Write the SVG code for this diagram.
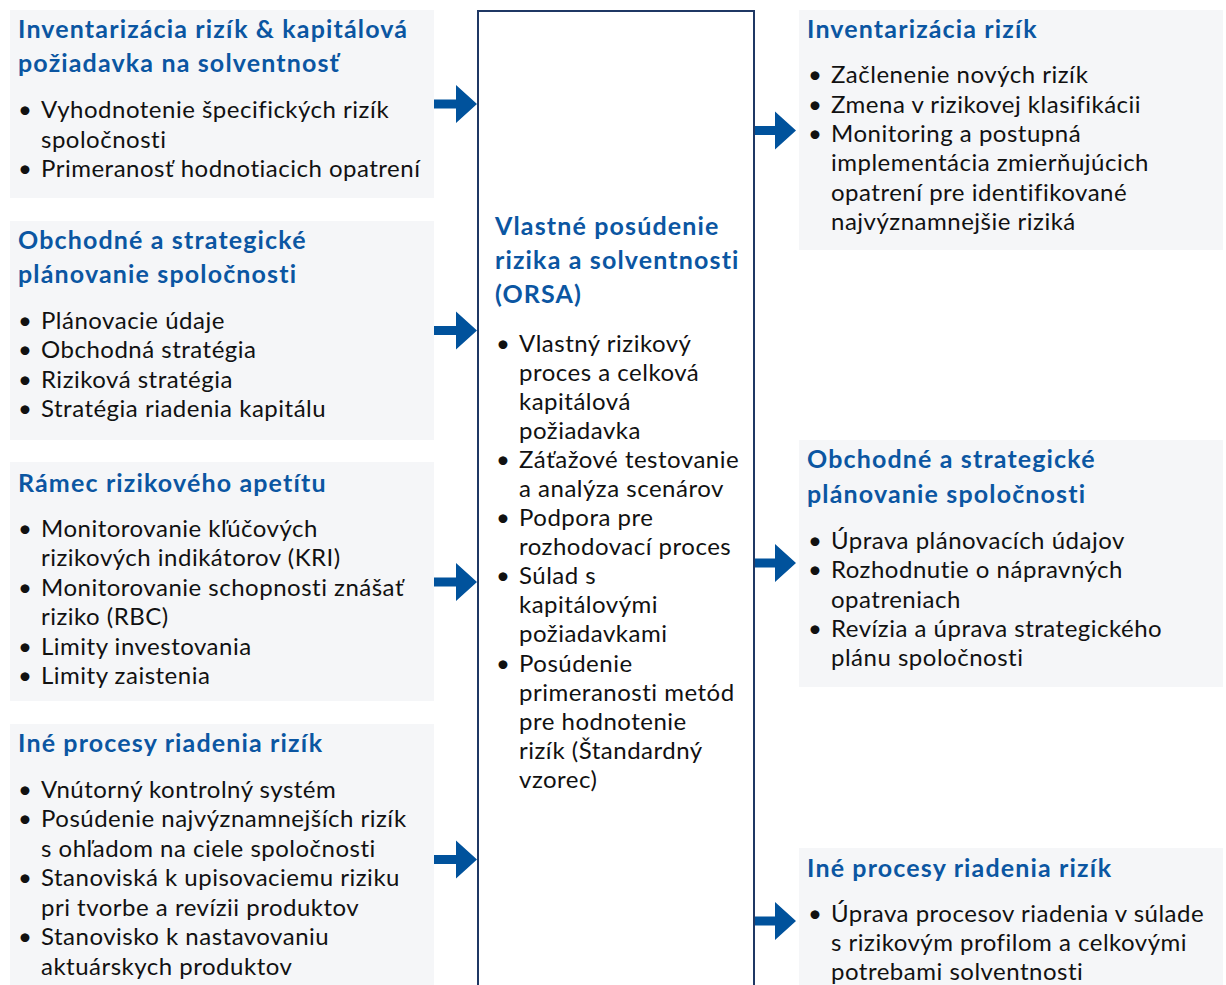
<svg xmlns="http://www.w3.org/2000/svg" width="1226" height="985" viewBox="0 0 1226 985">
<style>
.box{fill:#f5f6f8}
.t{font-family:Lato,"Liberation Sans",sans-serif;font-weight:bold;font-size:25px;letter-spacing:1.15px;fill:#0b56a2}
.b{font-family:Lato,"Liberation Sans",sans-serif;font-size:24px;letter-spacing:0.5px;fill:#111}
.arr{fill:#00529c}
.center{fill:#fff;stroke:#1f3864;stroke-width:2}
</style>
<rect width="1226" height="985" fill="#fff"/>
<g id="center-node">
<rect class="center" x="478" y="11" width="276" height="990"/>
<text class="t"><tspan x="495" y="235">Vlastné posúdenie</tspan><tspan x="495" y="269">rizika a solventnosti</tspan><tspan x="495" y="303">(ORSA)</tspan></text>
<text class="b"><tspan x="496" y="352">•</tspan><tspan x="519" y="352">Vlastný rizikový</tspan><tspan x="519" y="381">proces a celková</tspan><tspan x="519" y="410">kapitálová</tspan><tspan x="519" y="439">požiadavka</tspan>
<tspan x="496" y="468">•</tspan><tspan x="519" y="468">Záťažové testovanie</tspan><tspan x="519" y="497">a analýza scenárov</tspan>
<tspan x="496" y="526">•</tspan><tspan x="519" y="526">Podpora pre</tspan><tspan x="519" y="555">rozhodovací proces</tspan>
<tspan x="496" y="584">•</tspan><tspan x="519" y="584">Súlad s</tspan><tspan x="519" y="613">kapitálovými</tspan><tspan x="519" y="642">požiadavkami</tspan>
<tspan x="496" y="672">•</tspan><tspan x="519" y="672">Posúdenie</tspan><tspan x="519" y="701">primeranosti metód</tspan><tspan x="519" y="730">pre hodnotenie</tspan><tspan x="519" y="759">rizík (Štandardný</tspan><tspan x="519" y="788">vzorec)</tspan></text>
</g>
<g id="left-1">
<rect class="box" x="10" y="10" width="424" height="188"/>
<text class="t"><tspan x="18" y="38">Inventarizácia rizík &amp; kapitálová</tspan><tspan x="18" y="72">požiadavka na solventnosť</tspan></text>
<text class="b"><tspan x="18" y="118">•</tspan><tspan x="41" y="118">Vyhodnotenie špecifických rizík</tspan><tspan x="41" y="148">spoločnosti</tspan>
<tspan x="18" y="177">•</tspan><tspan x="41" y="177">Primeranosť hodnotiacich opatrení</tspan></text>
</g>
<g id="left-2">
<rect class="box" x="10" y="221" width="424" height="219"/>
<text class="t"><tspan x="18" y="249">Obchodné a strategické</tspan><tspan x="18" y="283">plánovanie spoločnosti</tspan></text>
<text class="b"><tspan x="18" y="329">•</tspan><tspan x="41" y="329">Plánovacie údaje</tspan>
<tspan x="18" y="358">•</tspan><tspan x="41" y="358">Obchodná stratégia</tspan>
<tspan x="18" y="388">•</tspan><tspan x="41" y="388">Riziková stratégia</tspan>
<tspan x="18" y="417">•</tspan><tspan x="41" y="417">Stratégia riadenia kapitálu</tspan></text>
</g>
<g id="left-3">
<rect class="box" x="10" y="462" width="424" height="239"/>
<text class="t"><tspan x="18" y="492">Rámec rizikového apetítu</tspan></text>
<text class="b"><tspan x="18" y="537">•</tspan><tspan x="41" y="537">Monitorovanie kľúčových</tspan><tspan x="41" y="566">rizikových indikátorov (KRI)</tspan>
<tspan x="18" y="596">•</tspan><tspan x="41" y="596">Monitorovanie schopnosti znášať</tspan><tspan x="41" y="625">riziko (RBC)</tspan>
<tspan x="18" y="655">•</tspan><tspan x="41" y="655">Limity investovania</tspan>
<tspan x="18" y="684">•</tspan><tspan x="41" y="684">Limity zaistenia</tspan></text>
</g>
<g id="left-4">
<rect class="box" x="10" y="724" width="424" height="270"/>
<text class="t"><tspan x="18" y="752">Iné procesy riadenia rizík</tspan></text>
<text class="b"><tspan x="18" y="798">•</tspan><tspan x="41" y="798">Vnútorný kontrolný systém</tspan>
<tspan x="18" y="827">•</tspan><tspan x="41" y="827">Posúdenie najvýznamnejších rizík</tspan><tspan x="41" y="857">s ohľadom na ciele spoločnosti</tspan>
<tspan x="18" y="886">•</tspan><tspan x="41" y="886">Stanoviská k upisovaciemu riziku</tspan><tspan x="41" y="916">pri tvorbe a revízii produktov</tspan>
<tspan x="18" y="945">•</tspan><tspan x="41" y="945">Stanovisko k nastavovaniu</tspan><tspan x="41" y="975">aktuárskych produktov</tspan></text>
</g>
<g id="right-1">
<rect class="box" x="799" y="10" width="424" height="240"/>
<text class="t"><tspan x="807" y="38">Inventarizácia rizík</tspan></text>
<text class="b"><tspan x="808" y="83">•</tspan><tspan x="831" y="83">Začlenenie nových rizík</tspan>
<tspan x="808" y="113">•</tspan><tspan x="831" y="113">Zmena v rizikovej klasifikácii</tspan>
<tspan x="808" y="142">•</tspan><tspan x="831" y="142">Monitoring a postupná</tspan><tspan x="831" y="171">implementácia zmierňujúcich</tspan><tspan x="831" y="201">opatrení pre identifikované</tspan><tspan x="831" y="230">najvýznamnejšie riziká</tspan></text>
</g>
<g id="right-2">
<rect class="box" x="799" y="440" width="424" height="247"/>
<text class="t"><tspan x="807" y="468">Obchodné a strategické</tspan><tspan x="807" y="503">plánovanie spoločnosti</tspan></text>
<text class="b"><tspan x="808" y="549">•</tspan><tspan x="831" y="549">Úprava plánovacích údajov</tspan>
<tspan x="808" y="578">•</tspan><tspan x="831" y="578">Rozhodnutie o nápravných</tspan><tspan x="831" y="608">opatreniach</tspan>
<tspan x="808" y="637">•</tspan><tspan x="831" y="637">Revízia a úprava strategického</tspan><tspan x="831" y="666">plánu spoločnosti</tspan></text>
</g>
<g id="right-3">
<rect class="box" x="799" y="848" width="424" height="140"/>
<text class="t"><tspan x="807" y="877">Iné procesy riadenia rizík</tspan></text>
<text class="b"><tspan x="808" y="922">•</tspan><tspan x="831" y="922">Úprava procesov riadenia v súlade</tspan><tspan x="831" y="951">s rizikovým profilom a celkovými</tspan><tspan x="831" y="980">potrebami solventnosti</tspan></text>
</g>
<g id="connectors">
<path class="arr" d="M434,99.5 H456 V85 L477,104 L456,123 V108.5 H434 Z"/>
<path class="arr" d="M434,326 H456 V311.5 L477,330.5 L456,349.5 V335 H434 Z"/>
<path class="arr" d="M434,577.5 H456 V563 L477,582 L456,601 V586.5 H434 Z"/>
<path class="arr" d="M434,855 H456 V840.5 L477,859.5 L456,878.5 V864 H434 Z"/>
<path class="arr" d="M755,126 H775 V111.5 L796,130.5 L775,149.5 V135 H755 Z"/>
<path class="arr" d="M755,558.5 H775 V544 L796,563 L775,582 V567.5 H755 Z"/>
<path class="arr" d="M755,916.5 H775 V902 L796,921 L775,940 V925.5 H755 Z"/>
</g>
</svg>
